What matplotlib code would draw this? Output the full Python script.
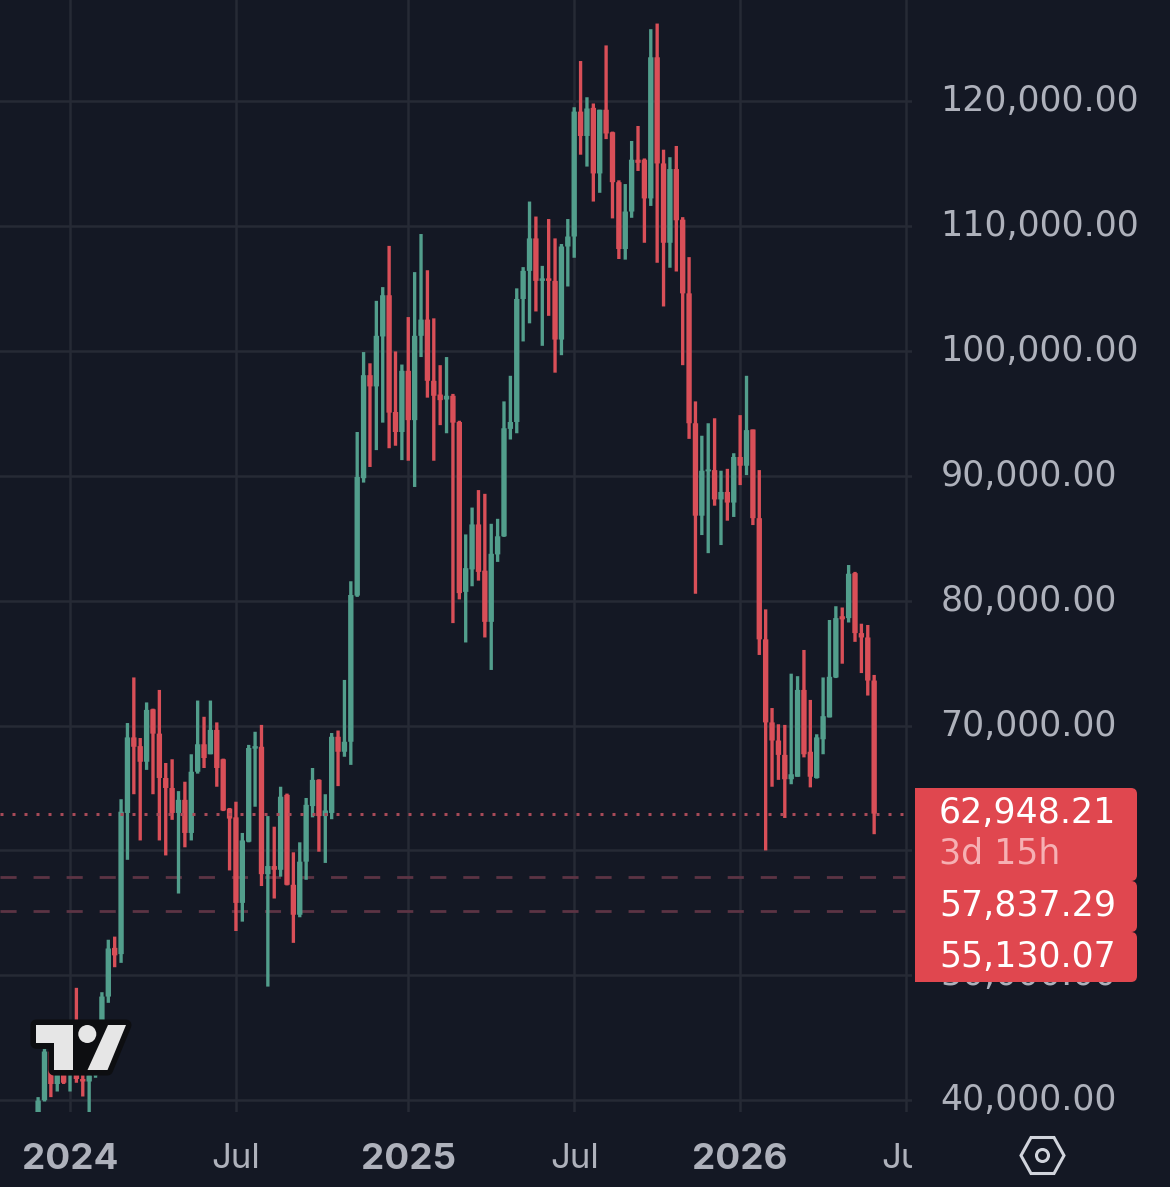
#!/usr/bin/env python3
import matplotlib
matplotlib.use("Agg")
import matplotlib.pyplot as plt
from matplotlib.patches import Circle, FancyBboxPatch, Polygon
from matplotlib.transforms import Affine2D, Bbox

# weekly candles (first bar = late Nov 2023)
opens = [
    37450, 40000, 43900, 41300, 43600, 42200, 44000, 41700, 41500, 42000,
    42500, 48300, 52200, 51700, 63000, 69050, 68350, 67100, 71300, 69350,
    65800, 65000, 63000, 64050, 61400, 66300, 68500, 67700, 69650, 67300,
    63350, 62650, 55800, 60700, 68150, 68300, 58100, 58750, 58450, 64450,
    57250, 54850, 59100, 63550, 65650, 62750, 63000, 69100, 67900, 68700,
    80400, 89800, 98050, 97150, 101150, 104450, 95100, 93500, 98400, 94450,
    101200, 102500, 97600, 96500, 96100, 96400, 94300, 80700, 82500, 86100,
    82400, 78300, 83700, 85150, 93750, 94300, 104150, 106400, 109000, 105600,
    105800, 105600, 100900, 108350, 109150, 119150, 117200, 119450, 114200, 119300,
    117500, 113500, 108150, 111150, 115300, 115300, 112200, 123500, 115000, 108650,
    114550, 110500, 104600, 94200, 86800, 90350, 90450, 88100, 88700, 87850,
    91500, 90800, 93700, 86600, 76900, 70250, 68800, 67650, 65700, 65900,
    72850, 67900, 65800, 68900, 70650, 73850, 78750, 78600, 82200, 77400,
    77050, 73600,
]
highs = [
    40250, 44100, 44700, 43800, 44000, 45800, 49000, 43200, 42200, 43800,
    48650, 52850, 53100, 64100, 70200, 73850, 69000, 71850, 71350, 72850,
    67000, 67300, 64750, 65500, 67700, 72000, 70700, 72000, 70250, 67350,
    63400, 63900, 61400, 68450, 69500, 70050, 62750, 61900, 65100, 64550,
    59850, 60650, 64200, 66600, 65700, 64500, 69400, 69600, 73650, 81550,
    93500, 99900, 99000, 104000, 105100, 108400, 99950, 98900, 102700, 106300,
    109350, 106450, 102600, 98850, 99500, 96550, 94400, 85300, 87450, 88850,
    88550, 86150, 86550, 95950, 98000, 105000, 106700, 111950, 110750, 106800,
    110550, 109000, 108550, 110550, 119500, 123200, 120300, 119800, 119300, 124450,
    117550, 113650, 113350, 116800, 118000, 115400, 125750, 126200, 116100, 115500,
    116400, 110700, 107500, 95950, 93200, 94200, 94600, 90400, 90550, 91800,
    94850, 98000, 93700, 90450, 79300, 71400, 70100, 70050, 74150, 73950,
    76050, 72050, 69300, 73850, 78450, 79550, 79450, 82850, 82300, 78150,
    78050, 74050,
]
lows = [
    37150, 39900, 40250, 40700, 41300, 40700, 41400, 40300, 38500, 41800,
    42400, 47800, 50650, 51000, 59250, 64500, 60800, 66450, 64500, 60800,
    59600, 62450, 56550, 60250, 60800, 66150, 66600, 67700, 65100, 63150,
    58400, 53550, 54300, 60650, 63500, 57150, 49100, 56150, 57900, 57200,
    52600, 54650, 57650, 62650, 59900, 59000, 62500, 65150, 67500, 66850,
    80300, 89450, 90700, 92050, 94250, 92200, 92400, 91250, 91200, 89100,
    99500, 96250, 91200, 94050, 93400, 78200, 80100, 76650, 81150, 81600,
    77050, 74450, 83100, 85100, 92900, 93400, 100750, 102200, 103150, 100400,
    102800, 98250, 99650, 105150, 107450, 115700, 114750, 111950, 112650, 116950,
    110600, 107350, 107300, 110650, 114400, 108650, 111600, 107050, 103550, 106650,
    106350, 98850, 92950, 80550, 85250, 83800, 87600, 84450, 86400, 86700,
    89250, 90050, 86050, 75650, 60000, 65100, 65650, 62600, 65300, 65900,
    67450, 65050, 65750, 67700, 70650, 73800, 74950, 78250, 76700, 74200,
    72400, 61300,
]
closes = [
    39970, 43900, 41300, 43600, 41400, 44100, 41700, 41500, 42000, 42500,
    48300, 52150, 51600, 63100, 69050, 68300, 67100, 71250, 69350, 65800,
    65000, 63000, 64050, 61400, 66300, 68500, 67400, 69650, 66600, 63200,
    62550, 55800, 60800, 68200, 68350, 58100, 58750, 58450, 64300, 57250,
    54850, 59100, 63650, 65650, 62750, 63200, 69100, 67900, 68700, 80450,
    89900, 98050, 97150, 101200, 104450, 95050, 93500, 98400, 94450, 101200,
    102500, 97600, 96400, 96050, 96400, 94250, 80600, 82600, 86100, 82300,
    78300, 83750, 85150, 93800, 94300, 104150, 106400, 109000, 105600, 105800,
    105600, 100900, 108350, 109150, 119150, 117200, 119400, 114200, 119300, 117400,
    113500, 108150, 111150, 115300, 115050, 112200, 123500, 115000, 108650, 114550,
    110450, 104600, 94200, 86800, 90400, 90500, 88100, 88700, 87850, 91500,
    90800, 93650, 86600, 76900, 70250, 68800, 67650, 65700, 66100, 72850,
    67700, 65900, 69050, 70750, 73900, 78600, 78500, 82150, 77400, 77050,
    73600, 62948.21,
]

price_ticks = [40000, 50000, 60000, 70000, 80000, 90000, 100000, 110000, 120000]
week_ticks = [5, 31, 58, 84, 110, 136]
week_labels = ["2024", "Jul", "2025", "Jul", "2026", "Jul"]
year_labels = {"2024", "2025", "2026"}

last_price = 62948.21
level_prices = [57837.29, 55130.07]
tag_labels = ["62,948.21", "57,837.29", "55,130.07"]
countdown = "3d 15h"

BG = "#141824"
GRID = "#262a35"
GREEN = "#529e8c"
RED = "#d94f58"
TAG = "#e0474f"
AXIS_TEXT = "#aeb1bb"
NUM_FONT = "DejaVu Sans"
W, H = 1170, 1187

plt.rcParams["font.family"] = ["Inter", "DejaVu Sans"]
fig = plt.figure(figsize=(W / 100, H / 100), dpi=100, facecolor=BG)

# chart area is 912 x 1112 px in the top left corner
ax = fig.add_axes([0, (H - 1112) / H, 912 / W, 1112 / H], facecolor=BG)
ax.set_xlim(-5.97, 136.93)
ax.set_ylim(39059, 128086)
for s in ax.spines.values():
    s.set_visible(False)

ax.set_axisbelow(True)
ax.grid(True, color=GRID, lw=1.8)

ax.set_xticks(week_ticks, week_labels)
ax.set_yticks(price_ticks, [f"{p:,.2f}" for p in price_ticks])
ax.yaxis.tick_right()
ax.tick_params(axis="both", length=0, colors=AXIS_TEXT)
ax.tick_params(axis="y", labelsize=25, pad=20.5)
ax.tick_params(axis="x", labelsize=25, pad=22)

# y labels sit a little above their grid line
lift = Affine2D().translate(0, 3.5)
for lab in ax.get_yticklabels():
    lab.set_transform(lab.get_transform() + lift)
    lab.set_fontfamily(NUM_FONT)
    lab.set_zorder(1)

# last "Jul" is cut off at the edge of the chart
clip = Bbox([[0, 0], [912, H]])
for lab in ax.get_xticklabels():
    if lab.get_text() in year_labels:
        lab.set_fontweight("bold")
        lab.set_fontsize(26.5)
    lab.set_clip_box(clip)
    lab.set_clip_on(True)

weeks = list(range(len(closes)))
colors = [GREEN if c >= o else RED for o, c in zip(opens, closes)]
wicks = ax.vlines(weeks, lows, highs, colors=colors, lw=2.4, zorder=3)
wicks.set_snap(False)
bodies = ax.bar(weeks, [abs(c - o) for o, c in zip(opens, closes)],
                bottom=[min(o, c) for o, c in zip(opens, closes)],
                width=0.84, color=colors, zorder=3)
for b in bodies:
    b.set_snap(False)

ax.axhline(last_price, xmax=905 / 912, color="#a84a58", lw=2.16, ls=(0, (1, 3)), zorder=4)
for p in level_prices:
    ax.axhline(p, xmax=905 / 912, color="#5c3444", lw=2, ls=(0, (5.8, 6.1)), zorder=2)

# overlay in pixel coordinates for price tags, logo and settings icon
over = fig.add_axes([0, 0, 1, 1], facecolor="none")
over.set_xlim(0, W)
over.set_ylim(H, 0)
over.axis("off")

tag_boxes = [(788, 881), (881, 932), (932, 982)]
for top, bottom in tag_boxes:
    over.add_patch(FancyBboxPatch((919, top + 4), 214, bottom - top - 8,
                                  boxstyle="round,pad=4,rounding_size=6",
                                  fc=TAG, ec="none", zorder=5))
over.add_patch(plt.Rectangle((915, 788), 12, 194, fc=TAG, ec="none", zorder=5))

for txt, y in zip(tag_labels, [813, 906, 957]):
    over.text(939, y, txt, color="white", fontsize=25, va="center", family=NUM_FONT, zorder=6)
over.text(939, 854, countdown, color="#f6b0b3", fontsize=25, va="center", family=NUM_FONT, zorder=6)

# logo
t_shape = [(36, 1025), (72.7, 1025), (72.7, 1070), (54, 1070), (54, 1043.3), (36, 1043.3)]
slash = [(108, 1025), (126, 1025), (107.5, 1070), (87.5, 1070)]
dot = (87.3, 1034)
backing = [(36, 1025), (126, 1025), (107.5, 1070), (54, 1070), (54, 1043.3), (36, 1043.3)]
over.add_patch(Polygon(backing, closed=True, fc="#0d0e11", ec="#0d0e11", lw=8, joinstyle="round", zorder=5))
over.add_patch(Polygon(t_shape, closed=True, fc="#e6e6e6", ec="none", zorder=6))
over.add_patch(Polygon(slash, closed=True, fc="#e6e6e6", ec="none", zorder=6))
over.add_patch(Circle(dot, 9, fc="#e6e6e6", ec="none", zorder=6))

# settings hexagon
hexagon = [(1021, 1155.5), (1031, 1137.5), (1054, 1137.5), (1064, 1155.5), (1054, 1173.5), (1031, 1173.5)]
over.add_patch(Polygon(hexagon, closed=True, fc="none", ec="#d1d4dc", lw=2.2, joinstyle="miter"))
over.add_patch(Circle((1042.5, 1155.5), 6, fc="none", ec="#d1d4dc", lw=2.2))

fig.savefig("out.png", dpi=100, facecolor=BG)
